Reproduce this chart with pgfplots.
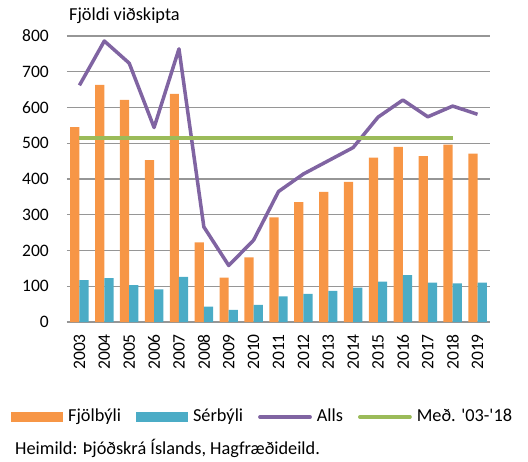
\documentclass[border=0pt]{standalone}
\usepackage{fontspec}
\setmainfont{Carlito}
\usepackage{pgfplots}
\pgfplotsset{compat=1.18}
\definecolor{cOr}{HTML}{F79646}
\definecolor{cBl}{HTML}{4BACC6}
\definecolor{cPu}{HTML}{8064A2}
\definecolor{cGr}{HTML}{9BBB59}
\definecolor{cGrid}{RGB}{150,150,150}
\begin{document}
\fontsize{18.3bp}{21bp}\selectfont
\begin{tikzpicture}
\useasboundingbox (-67bp,-140bp) rectangle (461bp,322bp);
\begin{axis}[at={(0,0)}, anchor=south west, scale only axis,
 width=423bp, height=286bp,
 xmin=-0.5, xmax=16.5, ymin=0, ymax=800,
 ytick={0,100,...,800},
 xtick={0,...,16},
 xticklabels={2003,2004,2005,2006,2007,2008,2009,2010,2011,2012,2013,2014,2015,2016,2017,2018,2019},
 /pgf/number format/assume math mode=true,
 tick label style={font=\fontsize{17.5bp}{20bp}\selectfont},
 major tick length=0pt,
 axis x line*=bottom, axis y line*=left,
 x axis line style={cGrid, line width=1.3bp, -},
 y axis line style={draw=none},
 ymajorgrids, major grid style={cGrid, line width=1.3bp},
 xticklabel style={rotate=90, anchor=east, inner sep=0pt},
 xticklabel shift=12bp,
 yticklabel style={anchor=east, inner sep=0pt},
 yticklabel shift=18bp,
 legend columns=4,
 legend style={at={(-0.1324,-0.3322)}, anchor=west, draw=none, fill=none, inner sep=0pt,
   nodes={inner sep=0pt, anchor=west},
   /tikz/every even column/.append style={column sep=15bp},
   /tikz/every odd column/.append style={column sep=5bp}},
]
\addplot[ybar, fill=cOr, draw=none, bar width=0.37, bar shift=-0.185,
 legend image code/.code={\fill[cOr] (0bp,-5bp) rectangle (52bp,5bp);}]
 coordinates {(0,545) (1,663) (2,621) (3,453) (4,638) (5,223) (6,124) (7,181) (8,293) (9,335) (10,364) (11,392) (12,460) (13,490) (14,464) (15,496) (16,471)};
\addlegendentry{Fjölbýli}
\addplot[ybar, fill=cBl, draw=none, bar width=0.37, bar shift=0.185,
 legend image code/.code={\fill[cBl] (0bp,-5bp) rectangle (52bp,5bp);}]
 coordinates {(0,117) (1,123) (2,103) (3,91) (4,126) (5,43) (6,34) (7,48) (8,72) (9,79) (10,87) (11,96) (12,113) (13,131) (14,110) (15,108) (16,110)};
\addlegendentry{Sérbýli}
\addplot[cPu, line width=3.5bp, line join=round, mark=none,
 legend image code/.code={\draw[cPu, line width=3.5bp, line cap=round] (1.75bp,0bp) -- (52bp,0bp);}]
 coordinates {(0,662) (1,786) (2,724) (3,544) (4,764) (5,266) (6,158) (7,229) (8,365) (9,414) (10,451) (11,488) (12,573) (13,621) (14,574) (15,604) (16,581)};
\addlegendentry{Alls}
\addplot[cGr, line width=3.5bp, mark=none,
 legend image code/.code={\draw[cGr, line width=3.5bp, line cap=round] (1.75bp,0bp) -- (52bp,0bp);}]
 coordinates {(0,515) (15,515)};
\addlegendentry{Með. \textquotesingle03-\textquotesingle18}
\end{axis}
\node[anchor=west, inner sep=0pt] at (2bp,306bp) {Fjöldi viðskipta};
\node[anchor=west, inner sep=0pt] at (-52bp,-126bp) {Heimild: Þjóðskrá Íslands, Hagfræðideild.};
\end{tikzpicture}
\end{document}
